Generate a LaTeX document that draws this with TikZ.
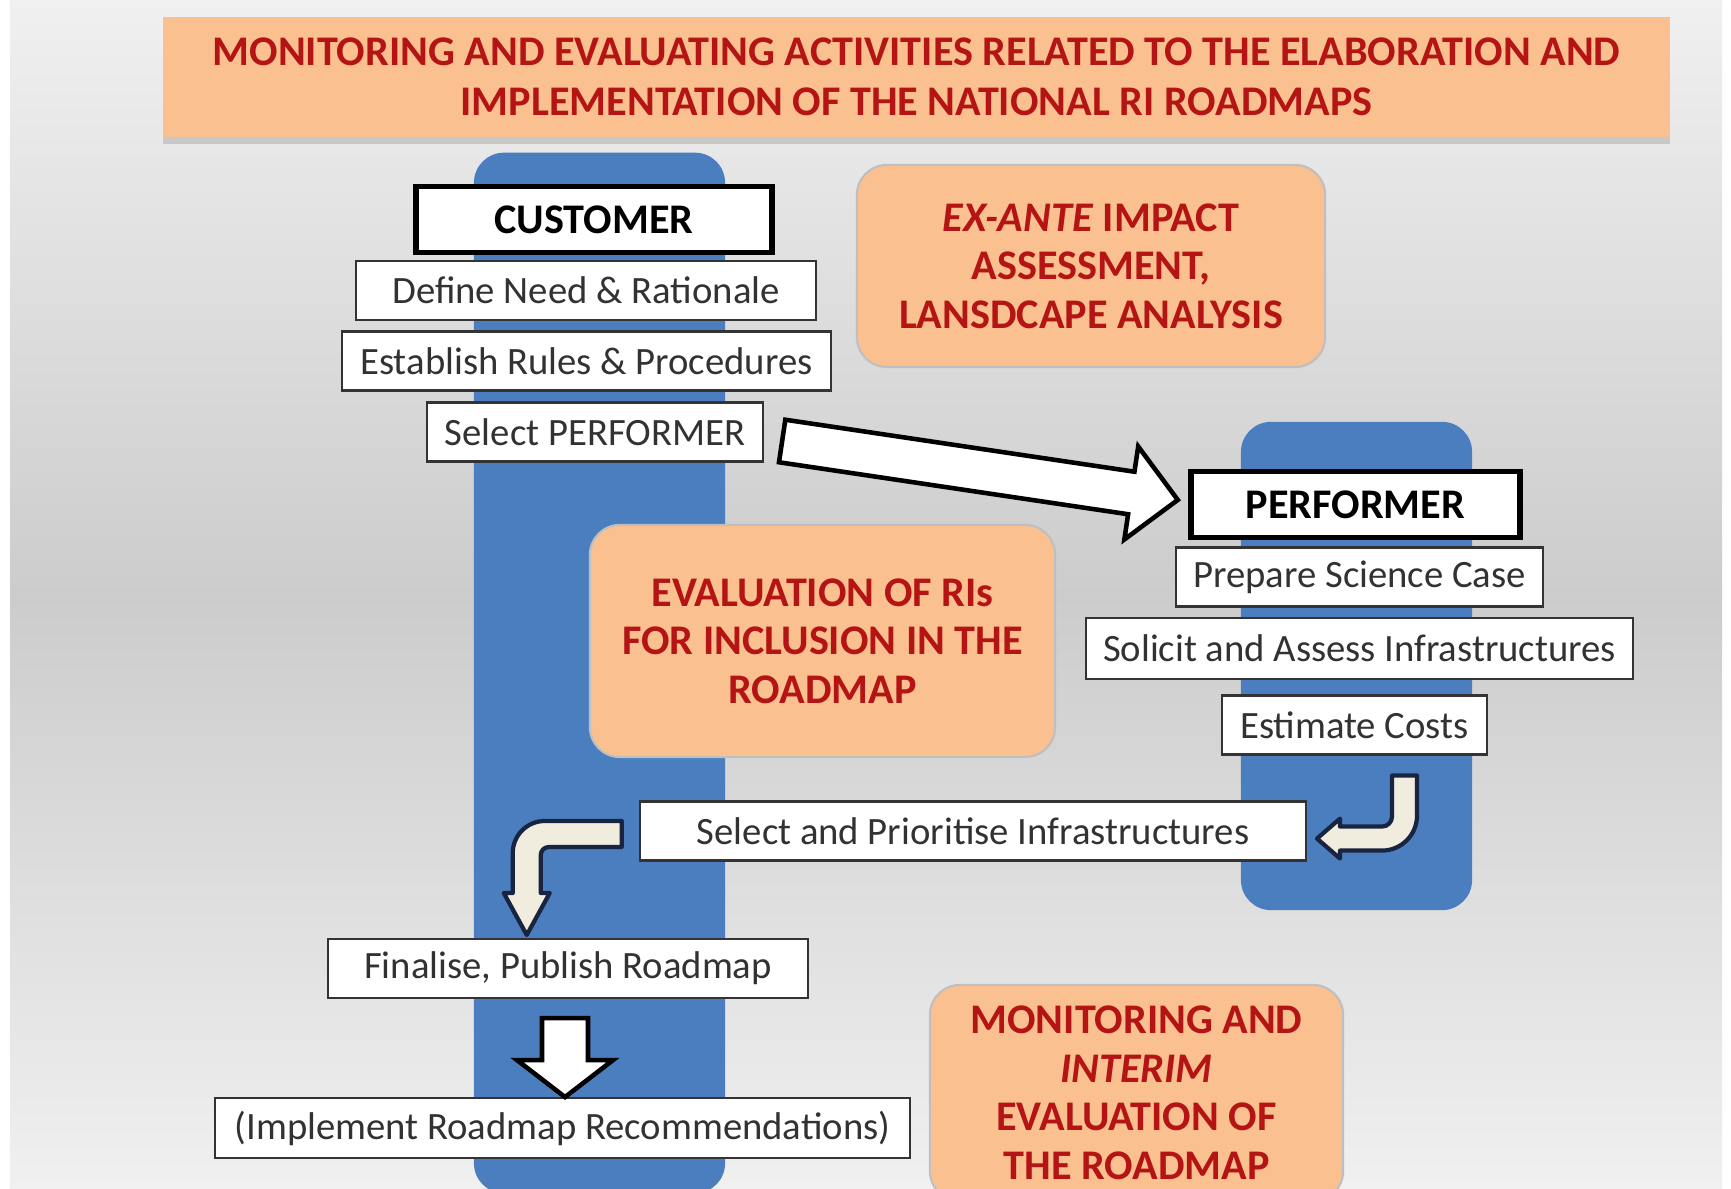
\documentclass[tikz,border=0pt]{standalone}
\usepackage{fontspec}
\setmainfont{Carlito}
\usetikzlibrary{positioning, calc, shadows}

\definecolor{bgtop}{RGB}{240,240,240}
\definecolor{bgmid}{RGB}{204,204,204}
\definecolor{peach}{RGB}{250,192,144}
\definecolor{colblue}{RGB}{74,126,191}
\definecolor{darkred}{RGB}{180,20,20}
\definecolor{cream}{RGB}{240,236,222}
\definecolor{navy}{RGB}{24,36,64}
\definecolor{boxtext}{RGB}{50,50,50}

\tikzset{
  stepbox/.style={draw=black!80, fill=white, line width=0.6pt, minimum height=0.59cm,
    inner sep=0pt, text=boxtext, font=\fontsize{11}{13}\selectfont},
  rolebox/.style={draw=black, fill=white, line width=1.5pt, minimum height=0.66cm,
    inner sep=0pt, font=\fontsize{12}{14}\selectfont\bfseries},
  evalbox/.style={fill=peach, draw=black!25, line width=0.6pt, rounded corners=0.3cm,
    align=center, inner sep=0pt, text=darkred, font=\fontsize{12}{13.8}\selectfont\bfseries},
  titlebox/.style={evalbox, draw=none, rounded corners=0pt, font=\fontsize{12}{14.2}\selectfont\bfseries,
    drop shadow={shadow xshift=0pt, shadow yshift=-2pt, opacity=0.3}},
  column/.style={fill=colblue, rounded corners=0.3cm, inner sep=0pt},
  bendarrow/.style={fill=cream, draw=navy, line width=1.2pt, line join=round},
  blockarrow/.style={fill=white, draw=black, line width=1.3pt, line join=miter},
}

\begin{document}
\begin{tikzpicture}[x=0.01cm, y=-0.01cm]
  \useasboundingbox (0,0) rectangle (1731,1189);
  \clip (0,0) rectangle (1731,1189);

  % background
  \fill[white] (0,0) rectangle (1731,1189);
  \shade[top color=bgtop, bottom color=bgtop, middle color=bgmid] (10,0) rectangle (1722,1189);

  % title
  \node[titlebox, minimum width=15.07cm, minimum height=1.19cm] (title) at (916.5,77)
    {MONITORING AND EVALUATING ACTIVITIES RELATED TO THE ELABORATION AND\\
     IMPLEMENTATION OF THE NATIONAL RI ROADMAPS};

  % blue columns
  \node[column, minimum width=2.51cm, minimum height=10.40cm] (custcol) at (599.5,673) {};
  \node[column, minimum width=2.31cm, minimum height=4.88cm] (perfcol) at (1356.5,666) {};

  % customer side
  \node[rolebox, minimum width=3.56cm] (customer) at (594,219.5) {CUSTOMER};
  \node[stepbox, minimum width=4.60cm] (need) at (586,290.5) {Define Need \& Rationale};
  \node[stepbox, minimum width=4.89cm] (rules) at (586.5,361) {Establish Rules \& Procedures};
  \node[stepbox, minimum width=3.36cm] (selperf) at (595,432) {Select PERFORMER};

  % performer side
  \node[rolebox, minimum width=3.29cm] (performer) at (1355.5,504.5) {PERFORMER};
  \node[stepbox, minimum width=3.67cm] (science) at (1359.5,577) {Prepare Science Case};
  \node[stepbox, minimum width=5.47cm, minimum height=0.61cm] (solicit) at (1359.5,648.5) {Solicit and Assess Infrastructures};
  \node[stepbox, minimum width=2.65cm] (costs) at (1354.5,725) {Estimate Costs};

  % back to customer
  \node[stepbox, minimum width=6.66cm] (prioritise) at (973,831) {Select and Prioritise Infrastructures};
  \node[stepbox, minimum width=4.80cm] (finalise) at (568,968.5) {Finalise, Publish Roadmap};
  \node[stepbox, minimum width=6.95cm, minimum height=0.60cm] (implement) at (562.5,1128) {(Implement Roadmap Recommendations)};

  % evaluation boxes
  \node[evalbox, minimum width=4.68cm, minimum height=2.02cm] (exante) at (1091,266)
    {\textit{EX-ANTE} IMPACT\\ASSESSMENT,\\LANSDCAPE ANALYSIS};
  \node[evalbox, minimum width=4.65cm, minimum height=2.32cm] (evalri) at (822.5,641)
    {EVALUATION OF RIs\\FOR INCLUSION IN THE\\ROADMAP};
  \node[evalbox, minimum width=4.13cm, minimum height=2.16cm] (monitor) at (1136.5,1093)
    {MONITORING AND\\\textit{INTERIM}\\EVALUATION OF\\THE ROADMAP};

  % arrows
  \coordinate (bigtail) at ($(selperf.east)+(18,9)$);
  \begin{scope}[shift={(bigtail)}, rotate=-8.47]
    \draw[blockarrow] (0,-21.5) -- (353,-21.5) -- (353,-47) -- (400,0)
      -- (353,47) -- (353,21.5) -- (0,21.5) -- cycle;
  \end{scope}

  \coordinate (rbend) at ($(costs.south)+(37.5,20)$);
  \begin{scope}[shift={(rbend)}]
    \draw[bendarrow] (0,0) -- (25,0) -- (25,40) arc[start angle=0, end angle=90, radius=35]
      -- (-52,75) -- (-52,83) -- (-75,63) -- (-52,43) -- (-52,51) -- (-10,51)
      arc[start angle=90, end angle=0, radius=10] -- cycle;
  \end{scope}

  \coordinate (lbend) at ($(prioritise.west)+(-17,-10)$);
  \begin{scope}[shift={(lbend)}]
    \draw[bendarrow] (0,0) -- (0,26) -- (-73,26) arc[start angle=-90, end angle=-180, radius=8]
      -- (-81,72) -- (-72,72) -- (-95,114) -- (-118,72) -- (-109,72) -- (-109,32)
      arc[start angle=180, end angle=270, radius=32] -- cycle;
  \end{scope}

  \coordinate (downtop) at ($(finalise.south)+(-3,19)$);
  \begin{scope}[shift={(downtop)}]
    \draw[blockarrow] (-23,0) -- (23,0) -- (23,42) -- (48,42) -- (0,79)
      -- (-48,42) -- (-23,42) -- cycle;
  \end{scope}
\end{tikzpicture}
\end{document}
